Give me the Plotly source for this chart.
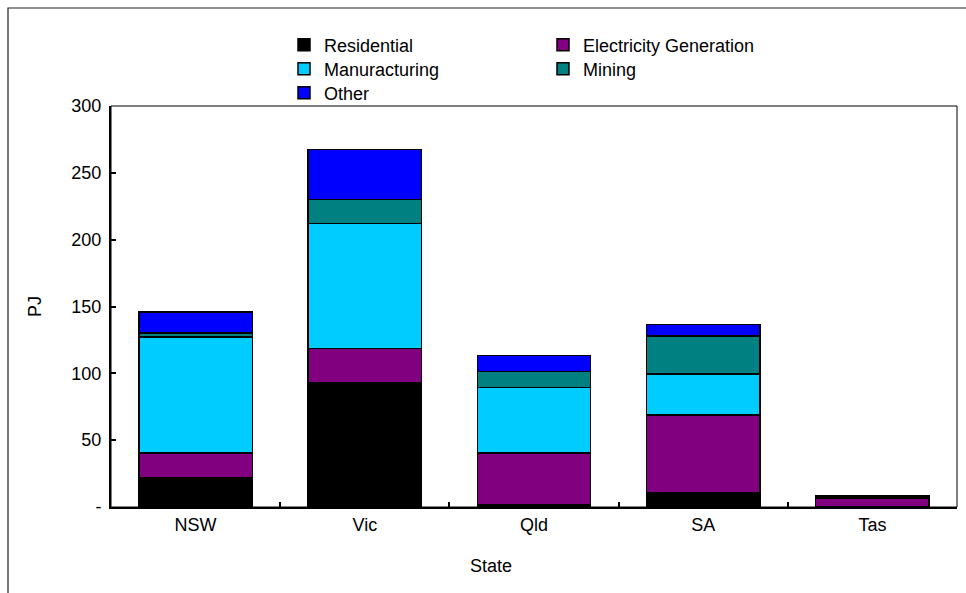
import plotly.graph_objects as go

states = ["NSW", "Vic", "Qld", "SA", "Tas"]
residential = [22, 93, 2, 10.5, 0]
electricity = [18.5, 25.5, 38.5, 58.5, 6.8]
manufacturing = [86.5, 93.5, 49, 30.5, 0.3]
mining = [3, 18, 12, 28.5, 0.2]
other = [16, 37.5, 12, 8.5, 1.2]

y_ticks = [0, 50, 100, 150, 200, 250, 300]
y_tick_text = ["-", "50", "100", "150", "200", "250", "300"]

FONT = "Liberation Sans, Arial, sans-serif"
FS = 18

W, H = 966, 593
L, R, T, B = 111, 9, 106, 86
PW, PH = W - L - R, H - T - B


def px_x(p):
    return (p - L) / PW


def px_y(p):
    return (H - B - p) / PH


# name, values, colour, legend id, legend square left (px), legend row centre (px)
series = [
    ("Residential", residential, "#000000", "legend", 298, 45),
    ("Electricity Generation", electricity, "#800080", "legend2", 557, 45),
    ("Manuracturing", manufacturing, "#00CCFF", "legend3", 298, 69),
    ("Mining", mining, "#008080", "legend4", 557, 69),
    ("Other", other, "#0000FF", "legend5", 298, 93),
]

fig = go.Figure()
legends = {}
for name, vals, color, lg, lx, ly in series:
    fig.add_trace(go.Bar(
        x=states, y=vals, name=name,
        marker=dict(color=color, line=dict(color="#000000", width=1.5)),
        legend=lg, showlegend=True,
    ))
    legends[lg] = dict(
        x=px_x(lx - 14), y=px_y(ly), xanchor="left", yanchor="middle",
        orientation="v", font=dict(size=FS), traceorder="normal",
        bgcolor="rgba(0,0,0,0)", itemclick=False, itemdoubleclick=False,
    )

fig.update_layout(
    width=W, height=H,
    margin=dict(l=L, r=R, t=T, b=B),
    showlegend=True,
    barmode="stack",
    bargap=0.33,
    plot_bgcolor="white",
    paper_bgcolor="white",
    font=dict(family=FONT, size=FS, color="#000000"),
    xaxis=dict(
        showline=True, linecolor="#000000", linewidth=2,
        ticks="inside", ticklen=5, tickcolor="#000000", tickwidth=1.5,
        tickson="boundaries", showgrid=False, ticklabelstandoff=0,
    ),
    yaxis=dict(
        range=[0, 300], showline=True, linecolor="#000000", linewidth=2,
        ticks="inside", ticklen=5, tickcolor="#000000", tickwidth=1.5,
        tickvals=y_ticks, ticktext=y_tick_text, showgrid=False,
        zeroline=False, ticklabelstandoff=4,
    ),
    shapes=[
        dict(type="rect", xref="paper", yref="paper", x0=0, x1=1, y0=0, y1=1,
             line=dict(color="#000000", width=1), layer="above"),
        dict(type="rect", xref="paper", yref="paper",
             x0=px_x(8), x1=px_x(980), y0=px_y(610), y1=px_y(8),
             line=dict(color="#222222", width=1.2), layer="below"),
    ],
    annotations=[
        dict(text="PJ", xref="paper", yref="paper", x=px_x(35), y=px_y(307),
             xanchor="center", yanchor="middle",
             textangle=-90, showarrow=False, font=dict(size=FS)),
        dict(text="State", xref="paper", yref="paper", x=px_x(491), y=px_y(566),
             xanchor="center", yanchor="middle",
             showarrow=False, font=dict(size=FS)),
    ],
    **legends,
)

fig.write_html(
    "out.html",
    config={"displayModeBar": False},
    post_script="document.body.style.margin='0px';document.body.style.overflow='hidden';",
)
